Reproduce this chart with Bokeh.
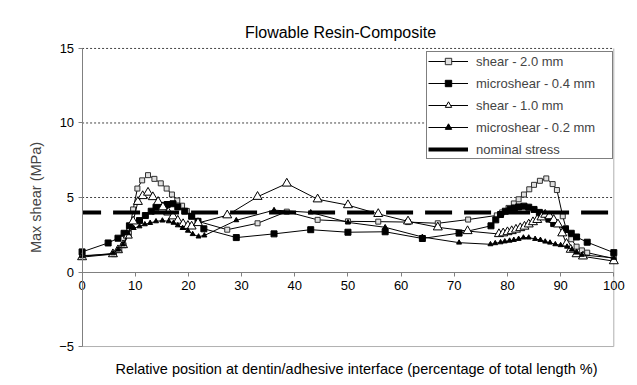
from bokeh.plotting import figure
from bokeh.models import Range1d, FixedTicker, LinearAxis, Title
from bokeh.embed import file_html
from bokeh.resources import INLINE

title_text = "Flowable Resin-Composite"
x_label = "Relative position at dentin/adhesive interface (percentage of total length %)"
y_label = "Max shear (MPa)"
x_ticks = [0, 10, 20, 30, 40, 50, 60, 70, 80, 90, 100]
y_ticks = [-5, 0, 5, 10, 15]
grid_levels = [5, 10, 15]

shear20_x = [0, 6, 7, 7.8, 8.8, 9.6, 10.4, 11.3, 12.4, 13.6, 14.8, 15.9, 16.9, 17.9, 18.8, 19.7,
             20.7, 21.8, 27.3, 33, 38.5, 44.3, 50, 55.7, 61.3, 66.9, 72.6, 78, 79, 80.2, 81.2,
             82.1, 83.1, 84.1, 85, 86.1, 87.3, 88.5, 89.3, 90.4, 91, 92, 93, 94, 95, 100]
shear20_y = [1.1, 1.2, 1.5, 1.8, 2.6, 4.2, 5.6, 6.15, 6.5, 6.25, 5.95, 5.6, 5.2, 4.8, 4.45, 4.1,
             3.75, 3.4, 2.84, 3.27, 4.05, 3.5, 3.4, 3.38, 3.35, 3.27, 3.52, 3.8, 4.0, 4.3, 4.6,
             4.88, 5.2, 5.55, 5.85, 6.12, 6.28, 5.9, 5.5, 3.74, 2.95, 2.2, 1.7, 1.45, 1.3, 0.9]

mu04_x = [0, 4.9, 6.75, 7.9, 8.9, 10.8, 11.9, 13, 13.9, 15, 16, 17.1, 18, 19.3, 20.6, 21.8, 22.9,
          29, 36.1, 43, 50, 57, 64, 70.9, 76.9, 77.8, 78.7, 79.6, 80.5, 81.3, 82.1, 83.1, 84, 85,
          86, 86.9, 87.8, 88.7, 90.9, 92, 93, 95, 100]
mu04_y = [1.35, 1.95, 2.27, 2.6, 3.1, 3.45, 3.79, 4.08, 4.35, 4.47, 4.53, 4.58, 4.37, 4.08, 3.74,
          3.4, 2.9, 2.31, 2.56, 2.84, 2.67, 2.7, 2.25, 2.61, 3.1, 3.5, 3.86, 4.08, 4.2, 4.3, 4.37,
          4.42, 4.35, 4.2, 4.0, 3.85, 3.55, 3.25, 2.85, 2.6, 2.35, 2.0, 1.3]

shear10_x = [0, 5.8, 6.75, 7.7, 8.6, 9.6, 10.5, 11.4, 12.4, 13.3, 14.3, 15.2, 16.2, 17.1, 18, 19,
             19.9, 20.6, 21.8, 27.3, 33, 38.5, 44.3, 50, 55.7, 61.3, 66.9, 72.5, 78.4, 79.2, 80,
             80.8, 81.6, 82.4, 83.2, 84, 84.8, 85.6, 86.4, 87.1, 87.9, 88.7, 89.5, 90.3, 91.1,
             91.9, 93, 94.2, 100]
shear10_y = [1.0, 1.2, 1.47, 1.81, 2.45, 3.4, 4.71, 5.1, 5.33, 5.03, 4.71, 4.35, 4.0, 3.74, 3.45,
             3.22, 3.1, 3.06, 3.29, 3.81, 5.05, 5.94, 4.88, 4.49, 3.9, 3.4, 3.0, 2.75, 2.55, 2.6,
             2.68, 2.75, 2.85, 2.95, 3.05, 3.2, 3.35, 3.5, 3.67, 3.85, 3.75, 3.5, 3.2, 2.6, 1.9,
             1.5, 1.2, 1.05, 0.73]

mu02_x = [0, 5.8, 6.75, 7.7, 8.6, 9.7, 10.8, 11.8, 12.8, 13.9, 15.1, 16.3, 17.2, 18, 18.9, 19.9,
          20.8, 21.9, 23, 29, 36.1, 43, 50, 57, 64, 70.9, 76.8, 77.7, 78.7, 79.5, 80.4, 81.2,
          82.1, 83, 84, 85.2, 86.2, 87.1, 88, 89, 90, 91.2, 92.1, 93, 94, 100]
mu02_y = [1.05, 1.25, 1.5, 1.85, 2.6, 2.95, 3.06, 3.2, 3.29, 3.4, 3.45, 3.4, 3.3, 3.13, 2.95,
          2.77, 2.54, 2.38, 2.45, 3.47, 4.15, 4.0, 3.33, 3.0, 2.35, 1.97, 1.86, 1.93, 1.99, 2.05,
          2.1, 2.15, 2.22, 2.31, 2.31, 2.22, 2.15, 2.04, 1.97, 1.86, 1.8, 1.7, 1.5, 1.3, 1.15, 0.95]

nominal_x = [0, 100]
nominal_y = [4, 4]

FONT = "Liberation Sans"
x0, x1 = x_ticks[0], x_ticks[-1]
y0, y1 = y_ticks[0], y_ticks[-1]

# ranges padded so end tick labels and end markers are not clipped by the frame
p = figure(width=628, height=382, output_backend="svg", toolbar_location=None,
           x_range=Range1d(x0 - 5, x1 + 2.2), y_range=Range1d(y0 - 0.4, y1 + 0.4),
           min_border_left=55, min_border_right=3, min_border_top=42, min_border_bottom=20)
p.title.text = title_text
p.title.align = "center"
p.title.text_font = FONT
p.title.text_font_size = "16px"
p.title.text_font_style = "normal"
p.title.text_color = "black"
p.title.standoff = 3
p.outline_line_color = None
p.background_fill_color = "white"
p.border_fill_color = "white"
p.xgrid.visible = False
p.ygrid.visible = False

# main left axis: label only
p.yaxis.ticker = FixedTicker(ticks=[])
p.yaxis.axis_line_color = None
p.yaxis.major_tick_out = 0
p.yaxis.major_tick_in = 0
p.yaxis.minor_tick_line_color = None
p.yaxis.axis_label = y_label
p.yaxis.axis_label_text_font = FONT
p.yaxis.axis_label_text_font_size = "14.5px"
p.yaxis.axis_label_text_font_style = "normal"
p.yaxis.axis_label_standoff = 12

ya = LinearAxis(fixed_location=x0, ticker=FixedTicker(ticks=y_ticks), bounds=(y0, y1))
ya.minor_tick_line_color = None
ya.major_tick_in = 0
ya.major_tick_out = 4
ya.axis_line_color = "#808080"
ya.major_tick_line_color = "#808080"
ya.major_label_text_font = FONT
ya.major_label_text_font_size = "13px"
ya.major_label_text_color = "black"
ya.major_label_standoff = 4
p.add_layout(ya, "left")

# main below axis hidden; x label as a below title
p.xaxis.visible = False
p.add_layout(Title(text=x_label, align="left", offset=60, standoff=12, text_font=FONT,
                   text_font_size="14.5px", text_font_style="normal", text_color="black"),
             "below")

xa = LinearAxis(fixed_location=0, ticker=FixedTicker(ticks=x_ticks), bounds=(x0, x1))
xa.minor_tick_line_color = None
xa.major_tick_in = 0
xa.major_tick_out = 4
xa.axis_line_color = "#808080"
xa.major_tick_line_color = "#808080"
xa.major_label_text_font = FONT
xa.major_label_text_font_size = "13px"
xa.major_label_text_color = "black"
xa.major_label_standoff = 5
p.add_layout(xa, "below")

# grid lines and plot-area border
n = len(grid_levels)
p.segment(x0=[x0] * n, y0=grid_levels, x1=[x1] * n, y1=grid_levels,
          line_color="#444444", line_dash="2 2", line_width=1)
p.segment(x0=[x0, x1], y0=[y0, y0], x1=[x1, x1], y1=[y0, y1], line_color="#b0b0b0", line_width=1)

# series
lab1 = "shear - 2.0 mm"
lab2 = "microshear - 0.4 mm"
lab3 = "shear - 1.0 mm"
lab4 = "microshear - 0.2 mm"
lab5 = "nominal stress"

p.line(shear20_x, shear20_y, line_color="black", line_width=1, legend_label=lab1)
p.scatter(shear20_x, shear20_y, marker="square", size=5, line_color="#303030", fill_color="#e0e0e0",
          line_width=1, legend_label=lab1)

p.line(mu04_x, mu04_y, line_color="black", line_width=1, legend_label=lab2)
p.scatter(mu04_x, mu04_y, marker="square", size=6, line_color="black", fill_color="black",
          legend_label=lab2)

p.line(shear10_x, shear10_y, line_color="black", line_width=1, legend_label=lab3)
p.scatter(shear10_x, shear10_y, marker="triangle", size=9, line_color="black", fill_color="white",
          line_width=1, legend_label=lab3)

p.line(mu02_x, mu02_y, line_color="black", line_width=1, legend_label=lab4)
p.scatter(mu02_x, mu02_y, marker="triangle", size=5, line_color="black", fill_color="black",
          legend_label=lab4)

p.line(nominal_x, nominal_y, line_color="black", line_width=4, line_dash="27 12",
       line_dash_offset=8)
p.line(x=nominal_x[:1], y=nominal_y[:1], line_color="black", line_width=4, legend_label=lab5)

lg = p.legend[0]
lg.location = (371, 193)
lg.margin = 0
lg.padding = 1
lg.spacing = 6
lg.glyph_height = 16
lg.label_height = 16
lg.glyph_width = 40
lg.label_standoff = 8
lg.label_width = 135
lg.label_text_font = FONT
lg.label_text_font_size = "13px"
lg.border_line_color = "black"
lg.border_line_width = 1
lg.background_fill_color = "white"
lg.background_fill_alpha = 1

open("out.html", "w").write(file_html(p, INLINE))
